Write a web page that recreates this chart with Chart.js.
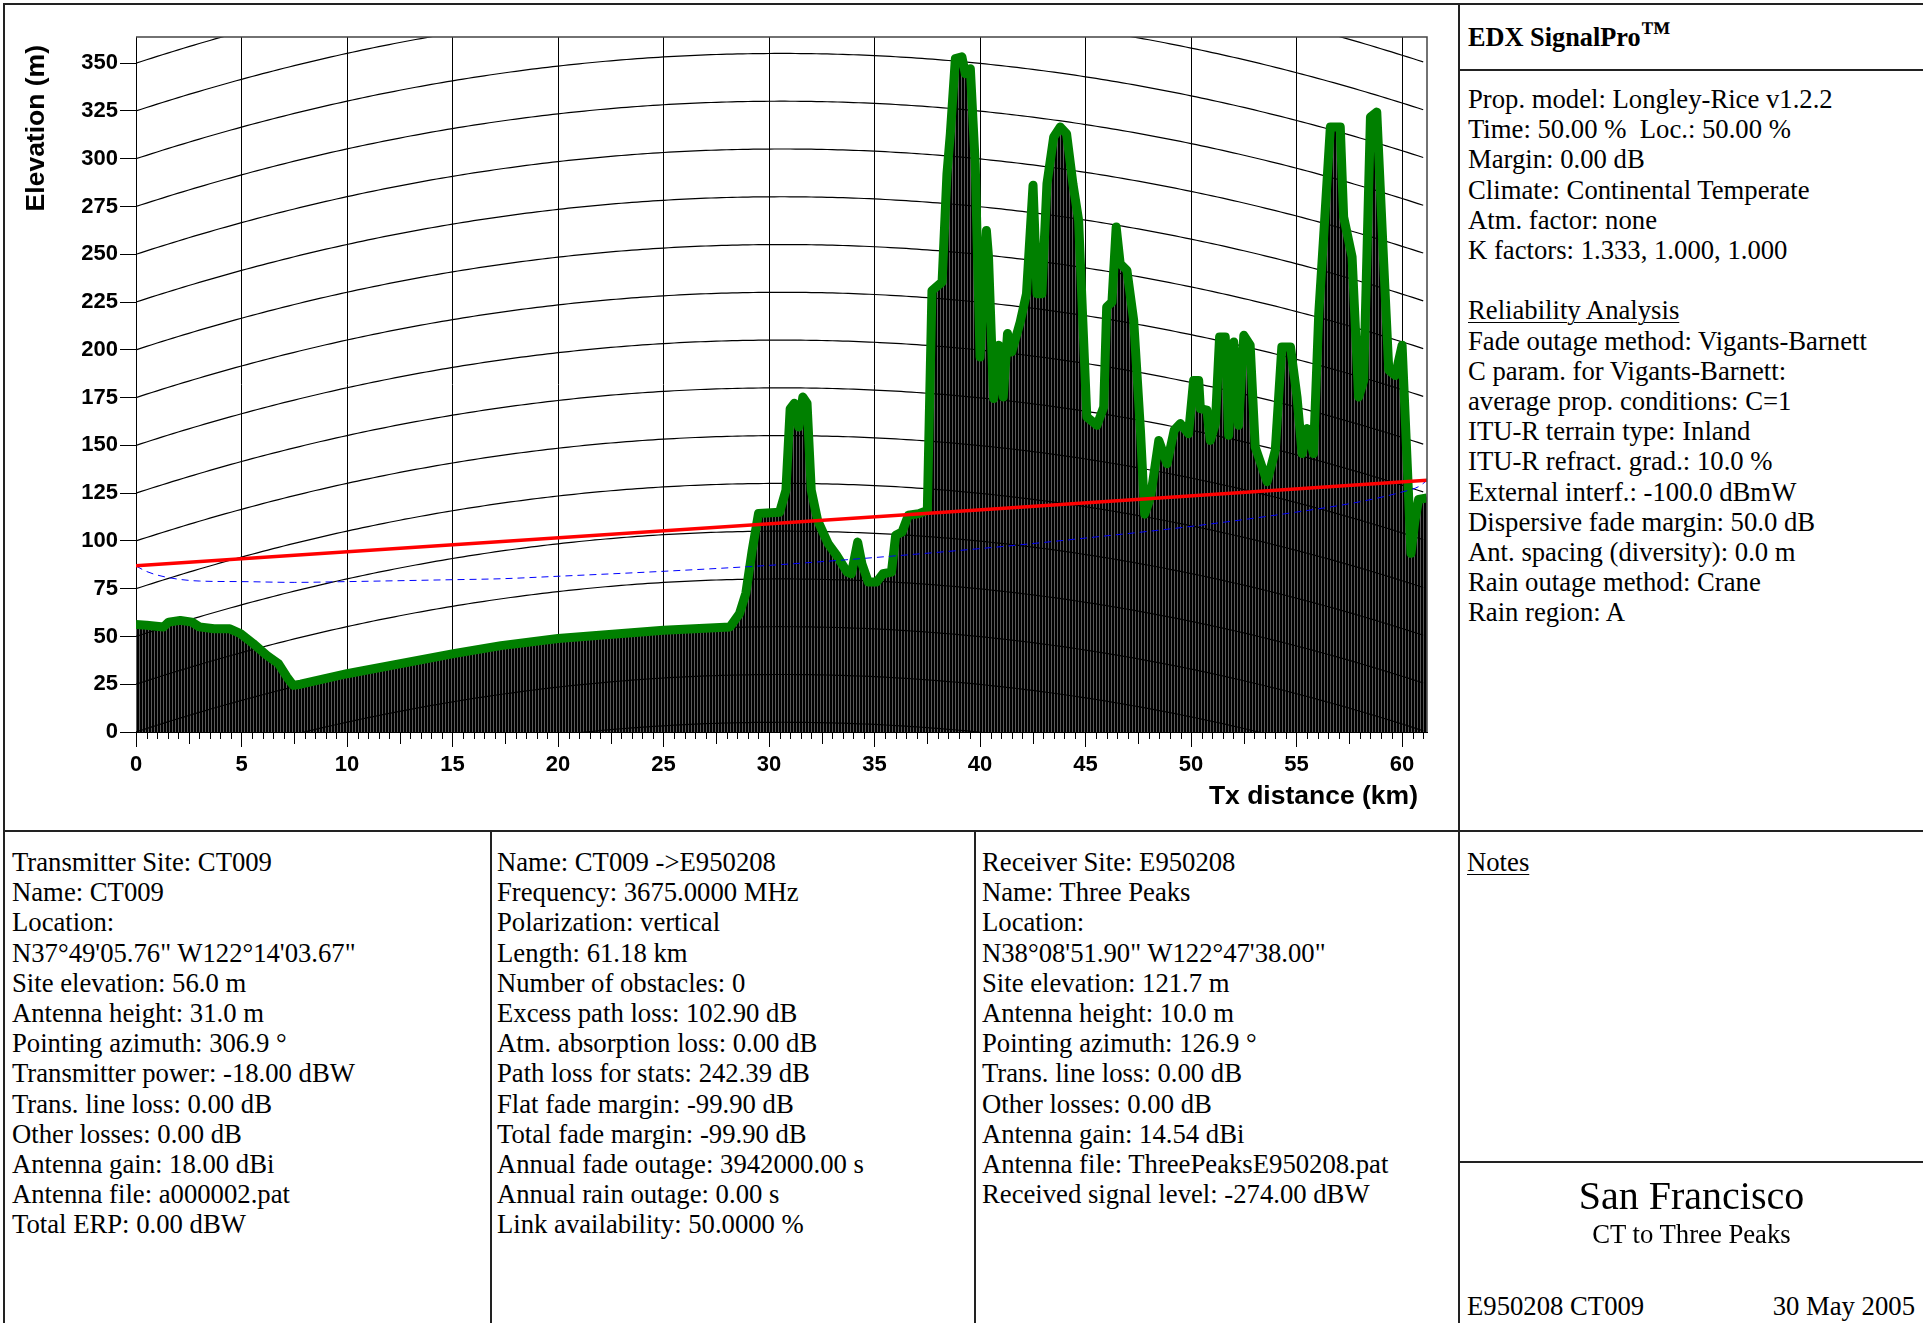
<!DOCTYPE html>
<html>
<head>
<meta charset="utf-8">
<title>EDX SignalPro - CT009 to E950208</title>
<script src="https://cdn.jsdelivr.net/npm/chart.js@4.4.1/dist/chart.umd.min.js"></script>
<style>
  body { margin: 0; background: #fff; }
  #page { position: relative; width: 1923px; height: 1323px; overflow: hidden;
          font-family: "Liberation Serif", "Times New Roman", serif; font-size: 26.7px; color: #000; }
  #profile { position: absolute; left: 5px; top: 5px; }
  .rule { position: absolute; background: #222; }
  .txt { position: absolute; line-height: 30.2px; white-space: pre; }
  u { text-decoration-thickness: 1px; text-underline-offset: 3px; }
</style>
</head>
<body>
<div id="page">
  <canvas id="profile" width="1454" height="826"></canvas>

  <div class="rule" style="left:3px;top:3px;width:1920px;height:2px"></div>
  <div class="rule" style="left:3px;top:3px;width:2px;height:1320px"></div>
  <div class="rule" style="left:1458px;top:3px;width:2px;height:1320px"></div>
  <div class="rule" style="left:1458px;top:69px;width:465px;height:2px"></div>
  <div class="rule" style="left:3px;top:830px;width:1920px;height:2px"></div>
  <div class="rule" style="left:490px;top:830px;width:2px;height:493px"></div>
  <div class="rule" style="left:974px;top:830px;width:2px;height:493px"></div>
  <div class="rule" style="left:1458px;top:1161px;width:465px;height:2px"></div>

  <div class="txt" style="left:1468px;top:21px;font-weight:bold;font-size:26.3px">EDX SignalPro<span style="font-size:30px;position:relative;top:-4px">™</span></div>

  <div class="txt" style="left:1468px;top:84px">Prop. model: Longley-Rice v1.2.2
Time: 50.00 %  Loc.: 50.00 %
Margin: 0.00 dB
Climate: Continental Temperate
Atm. factor: none
K factors: 1.333, 1.000, 1.000

<u>Reliability Analysis</u>
Fade outage method: Vigants-Barnett
C param. for Vigants-Barnett:
average prop. conditions: C=1
ITU-R terrain type: Inland
ITU-R refract. grad.: 10.0 %
External interf.: -100.0 dBmW
Dispersive fade margin: 50.0 dB
Ant. spacing (diversity): 0.0 m
Rain outage method: Crane
Rain region: A</div>

  <div class="txt" style="left:12px;top:847px">Transmitter Site: CT009
Name: CT009
Location:
N37°49'05.76" W122°14'03.67"
Site elevation: 56.0 m
Antenna height: 31.0 m
Pointing azimuth: 306.9 °
Transmitter power: -18.00 dBW
Trans. line loss: 0.00 dB
Other losses: 0.00 dB
Antenna gain: 18.00 dBi
Antenna file: a000002.pat
Total ERP: 0.00 dBW</div>

  <div class="txt" style="left:497px;top:847px">Name: CT009 -&gt;E950208
Frequency: 3675.0000 MHz
Polarization: vertical
Length: 61.18 km
Number of obstacles: 0
Excess path loss: 102.90 dB
Atm. absorption loss: 0.00 dB
Path loss for stats: 242.39 dB
Flat fade margin: -99.90 dB
Total fade margin: -99.90 dB
Annual fade outage: 3942000.00 s
Annual rain outage: 0.00 s
Link availability: 50.0000 %</div>

  <div class="txt" style="left:982px;top:847px">Receiver Site: E950208
Name: Three Peaks
Location:
N38°08'51.90" W122°47'38.00"
Site elevation: 121.7 m
Antenna height: 10.0 m
Pointing azimuth: 126.9 °
Trans. line loss: 0.00 dB
Other losses: 0.00 dB
Antenna gain: 14.54 dBi
Antenna file: ThreePeaksE950208.pat
Received signal level: -274.00 dBW</div>

  <div class="txt" style="left:1467px;top:847px"><u>Notes</u></div>

  <div class="txt" style="left:1460px;width:463px;top:1173px;text-align:center;font-size:40px;line-height:46px">San Francisco</div>
  <div class="txt" style="left:1460px;width:463px;top:1219px;text-align:center">CT to Three Peaks</div>
  <div class="txt" style="left:1467px;top:1291px">E950208 CT009</div>
  <div class="txt" style="right:8px;top:1291px">30 May 2005</div>
</div>

<script>
// terrain profile (green line), km along path / elevation m
const terrainKm = [0, 0.5, 1.3, 1.55, 2.1, 2.65, 3.0, 3.7, 4.45, 4.95, 5.55, 6.2, 6.75, 7.15, 7.45, 7.8,
  10.0, 15.05, 17.3, 20, 25, 28.15, 28.6, 28.9, 29.2, 29.5, 30.5, 30.8, 31.0, 31.2, 31.4, 31.6, 31.8,
  32.0, 32.3, 32.8, 33.2, 33.7, 33.9, 34.2, 34.4, 34.7, 35.1, 35.4, 35.8, 36.0, 36.3, 36.6, 37.1, 37.5,
  37.72, 38.2, 38.43, 38.59, 38.83, 39.14, 39.3, 39.54, 39.77, 40.0, 40.3, 40.4, 40.64, 40.88, 41.1,
  41.3, 41.5, 41.9, 42.2, 42.51, 42.7, 42.93, 43.17, 43.49, 43.8, 44.1, 44.4, 44.67, 45.06, 45.54,
  45.86, 46.0, 46.25, 46.45, 46.64, 46.96, 47.28, 47.6, 47.8, 48.08, 48.47, 48.86, 49.2, 49.49, 49.88,
  50.12, 50.36, 50.44, 50.75, 50.91, 51.15, 51.35, 51.62, 51.78, 52.02, 52.25, 52.5, 52.8, 53.04,
  53.6, 53.99, 54.3, 54.71, 55.02, 55.26, 55.5, 55.8, 56.05, 56.28, 56.6, 57.07, 57.23, 57.63, 57.94,
  58.18, 58.5, 58.8, 59.13, 59.37, 59.68, 60.0, 60.31, 60.42, 60.6, 60.78, 61.18];
const terrainM = [56.2, 55.9, 54.9, 57.5, 58.4, 57.5, 55.0, 54.0, 54.0, 51.5, 46.3, 40.1, 35.8, 28.8, 24.4, 25.0,
  30.5, 41.0, 45.2, 48.9, 53.2, 55.0, 62.0, 72.6, 95.0, 114.3, 115.0, 126.5, 169.2, 172.0, 159.6, 175.3, 172.0,
  126.5, 110.8, 98.6, 92.5, 83.7, 82.8, 99.4, 88.1, 78.5, 78.5, 82.8, 83.7, 102.9, 104.6, 113.4, 114.3, 116.0,
  231.0, 235.5, 292.0, 313.0, 352.4, 353.3, 344.5, 347.1, 297.4, 196.2, 262.5, 248.6, 174.5, 202.4, 175.3,
  208.5, 198.9, 214.5, 229.4, 286.1, 229.4, 229.4, 286.9, 311.4, 316.6, 313.0, 286.9, 267.8, 164.8, 160.5,
  170.1, 222.4, 225.0, 264.3, 245.1, 241.6, 215.4, 157.9, 114.0, 123.0, 152.6, 140.4, 158.0, 161.4, 156.1,
  184.0, 184.0, 169.2, 168.4, 152.6, 161.4, 206.7, 206.7, 155.3, 204.1, 160.5, 207.6, 202.4, 149.1,
  131.0, 147.4, 201.5, 201.5, 175.3, 145.7, 158.8, 145.7, 218.9, 259.0, 316.6, 316.6, 269.5, 248.6, 175.3,
  184.0, 321.8, 324.4, 245.1, 189.3, 186.6, 202.4, 123.0, 93.5, 110.0, 121.7, 122.5];

// lower Fresnel clearance (blue dashed)
const fresnelKm = [0, 0.5, 1.4, 3.0, 5.0, 7.5, 10, 15, 17.3, 20, 25, 30, 35, 41, 45, 50, 55, 58, 60, 60.8, 61.18];
const fresnelM = [86.9, 84.0, 81.1, 79.0, 78.7, 78.3, 78.7, 79.7, 80.2, 81.5, 84.1, 87.2, 91.3, 97.0, 101.5,
  107.6, 115.1, 120.5, 125.6, 128.5, 131.7];

// line of sight Tx antenna -> Rx antenna (red)
const losKm = [0, 61.18];
const losM = [87.0, 131.7];

const xTickVals = [0, 5, 10, 15, 20, 25, 30, 35, 40, 45, 50, 55, 60];
const yTickVals = [0, 25, 50, 75, 100, 125, 150, 175, 200, 225, 250, 275, 300, 325, 350];

// earth-curvature reference lines
const curveLevels = [-75, -50, -25, 0, 25, 50, 75, 100, 125, 150, 175, 200, 225, 250, 275, 300, 325, 350];
const kFactor = 1.333;
const pathKm = 61.18;

const xTitle = 'Tx distance (km)';
const yTitle = 'Elevation (m)';

function pts(xs, ys) {
  return xs.map((x, i) => ({ x: x, y: ys[i] }));
}

function makeHatch() {
  const c = document.createElement('canvas');
  c.width = 3; c.height = 1;
  const g = c.getContext('2d');
  g.fillStyle = '#000';
  g.fillRect(0, 0, 3, 1);
  g.fillStyle = '#5a5a5a';
  g.fillRect(2, 0, 1, 1);
  return g.createPattern(c, 'repeat');
}

const earthGrid = {
  id: 'earthGrid',
  afterDatasetDraw(chart, args) {
    if (args.index !== 0) return;
    const { ctx, chartArea: a, scales: { x, y } } = chart;
    ctx.save();
    ctx.beginPath();
    ctx.rect(a.left, a.top, a.right - a.left, a.bottom - a.top);
    ctx.clip();
    ctx.strokeStyle = '#000';
    ctx.lineWidth = 1.2;
    curveLevels.forEach(h => {
      ctx.beginPath();
      for (let d = 0; d <= pathKm + 0.001; d += 0.25) {
        const bulge = d * (pathKm - d) / (12.742 * kFactor);
        const px = x.getPixelForValue(d), py = y.getPixelForValue(h + bulge);
        if (d === 0) ctx.moveTo(px, py); else ctx.lineTo(px, py);
      }
      ctx.stroke();
    });
    ctx.restore();
  },
  afterDraw(chart) {
    const { ctx, chartArea: a, scales: { x } } = chart;
    ctx.save();
    ctx.strokeStyle = '#000';
    ctx.lineWidth = 1;
    // minor distance ticks
    for (let i = 1; i <= 122; i++) {
      const v = i / 2;
      if (v % 5 === 0) continue;
      const len = (v % 2.5 === 0) ? 12 : 7;
      const px = Math.round(x.getPixelForValue(v)) + 0.5;
      ctx.beginPath();
      ctx.moveTo(px, a.bottom);
      ctx.lineTo(px, a.bottom + len);
      ctx.stroke();
    }
    // frame top / right
    ctx.strokeStyle = '#444';
    ctx.lineWidth = 1.5;
    ctx.beginPath();
    ctx.moveTo(a.left, a.top);
    ctx.lineTo(a.right, a.top);
    ctx.lineTo(a.right, a.bottom);
    ctx.stroke();

    // axis titles
    ctx.fillStyle = '#000';
    ctx.font = 'bold 26.5px "Liberation Sans", Arial, sans-serif';
    ctx.textBaseline = 'middle';
    ctx.textAlign = 'right';
    ctx.fillText(xTitle, a.right - 9, 792);
    ctx.translate(32, 40);
    ctx.rotate(-Math.PI / 2);
    ctx.fillText(yTitle, 0, 0);
    ctx.restore();
  }
};

const axisFont = { family: '"Liberation Sans", Arial, sans-serif', weight: 'bold', size: 22 };

const canvas = document.getElementById('profile');
const hatch = makeHatch();

new Chart(canvas.getContext('2d'), {
  type: 'line',
  data: {
    datasets: [
      { data: pts(terrainKm, terrainM), borderWidth: 0, backgroundColor: hatch, fill: 'origin',
        pointRadius: 0, tension: 0, order: 4, clip: 0 },
      { data: pts(terrainKm, terrainM), borderColor: '#008000', borderWidth: 9, fill: false,
        borderJoinStyle: 'round', borderCapStyle: 'butt', pointRadius: 0, tension: 0, order: 3, clip: 0 },
      { data: pts(fresnelKm, fresnelM), borderColor: '#0000ff', borderWidth: 1, borderDash: [7, 5], fill: false,
        pointRadius: 0, cubicInterpolationMode: 'monotone', order: 2, clip: 0 },
      { data: pts(losKm, losM), borderColor: '#ff0000', borderWidth: 3.5, fill: false,
        pointRadius: 0, order: 1, clip: 0 }
    ]
  },
  options: {
    responsive: false,
    animation: false,
    devicePixelRatio: 1,
    layout: { padding: { left: 0, top: 32, right: 32, bottom: 0 } },
    plugins: { legend: { display: false }, tooltip: { enabled: false } },
    scales: {
      x: {
        type: 'linear', min: 0, max: 61.18,
        afterBuildTicks: s => { s.ticks = xTickVals.map(v => ({ value: v })); },
        afterFit: s => { s.height = 99; },
        ticks: { font: axisFont, color: '#000', padding: 5, maxRotation: 0 },
        grid: { color: '#000', lineWidth: 1, tickLength: 15, tickColor: '#000' },
        border: { display: true, color: '#000', width: 1 },
        title: { display: false }
      },
      y: {
        type: 'linear', min: 0, max: 363.7,
        afterBuildTicks: s => { s.ticks = yTickVals.map(v => ({ value: v })); },
        afterFit: s => { s.width = 131; },
        ticks: { font: axisFont, color: '#000', padding: 2 },
        grid: { drawOnChartArea: false, tickLength: 16, tickColor: '#000', color: '#000' },
        border: { display: true, color: '#000', width: 1 },
        title: { display: false }
      }
    }
  },
  plugins: [earthGrid]
});
</script>
</body>
</html>
